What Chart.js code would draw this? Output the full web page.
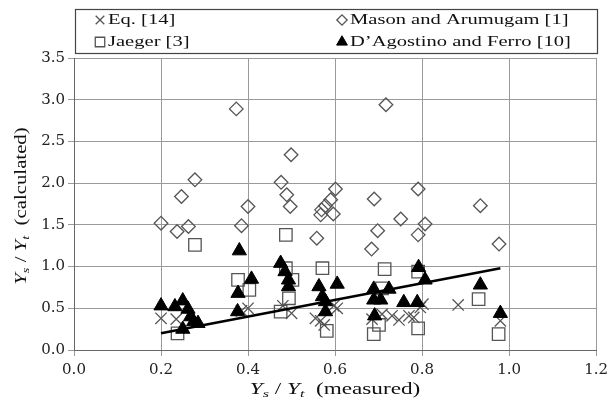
<!DOCTYPE html>
<html>
<head>
<meta charset="utf-8">
<script src="https://cdn.jsdelivr.net/npm/chart.js@4.4.0/dist/chart.umd.min.js"></script>
<style>
  html, body { margin: 0; padding: 0; background: #fff; }
  #wrap { position: relative; width: 613px; height: 405px; }
</style>
</head>
<body>
<div id="wrap"><canvas id="chart"></canvas></div>
<script>
// axis ticks
const xTicks = [0.0, 0.2, 0.4, 0.6, 0.8, 1.0, 1.2];
const yTicks = [0.0, 0.5, 1.0, 1.5, 2.0, 2.5, 3.0, 3.5];

// Eq. [14]
const eqX = [0.200, 0.235, 0.385, 0.400, 0.480, 0.500, 0.555, 0.567, 0.575, 0.597, 0.605, 0.685, 0.708, 0.731, 0.747, 0.770, 0.781, 0.796, 0.802, 0.883, 0.980];
const eqY = [0.38, 0.37, 0.47, 0.50, 0.53, 0.44, 0.38, 0.35, 0.30, 0.53, 0.50, 0.37, 0.43, 0.41, 0.36, 0.41, 0.39, 0.51, 0.55, 0.54, 0.35];

// Mason and Arumugam [1]
const masonX = [0.200, 0.237, 0.247, 0.263, 0.278, 0.373, 0.385, 0.400, 0.476, 0.489, 0.497, 0.499, 0.558, 0.567, 0.569, 0.578, 0.590, 0.596, 0.601, 0.684, 0.690, 0.698, 0.717, 0.751, 0.791, 0.791, 0.807, 0.934, 0.977];
const masonY = [1.52, 1.42, 1.84, 1.48, 2.04, 2.89, 1.49, 1.72, 2.01, 1.86, 1.72, 2.34, 1.34, 1.62, 1.68, 1.73, 1.80, 1.63, 1.93, 1.21, 1.81, 1.43, 2.94, 1.57, 1.93, 1.38, 1.51, 1.73, 1.27];

// Jaeger [3]
const jaegerX = [0.238, 0.278, 0.377, 0.403, 0.475, 0.487, 0.487, 0.494, 0.502, 0.571, 0.581, 0.689, 0.701, 0.708, 0.714, 0.791, 0.791, 0.930, 0.976];
const jaegerY = [0.20, 1.26, 0.84, 0.72, 0.46, 1.38, 0.98, 0.62, 0.84, 0.98, 0.23, 0.19, 0.30, 0.74, 0.97, 0.94, 0.26, 0.61, 0.19];

// D'Agostino and Ferro [10]
const agX = [0.200, 0.232, 0.250, 0.262, 0.268, 0.275, 0.285, 0.250, 0.376, 0.377, 0.380, 0.408, 0.475, 0.485, 0.493, 0.493, 0.563, 0.571, 0.578, 0.578, 0.605, 0.689, 0.689, 0.691, 0.705, 0.724, 0.758, 0.789, 0.792, 0.807, 0.934, 0.980];
const agY = [0.53, 0.52, 0.59, 0.49, 0.40, 0.34, 0.32, 0.25, 0.46, 0.68, 1.19, 0.85, 1.04, 0.94, 0.84, 0.76, 0.76, 0.64, 0.58, 0.46, 0.79, 0.73, 0.60, 0.41, 0.60, 0.73, 0.57, 0.57, 0.99, 0.84, 0.78, 0.44];

// fitted line
const fitX = [0.20, 0.98];
const fitY = [0.20, 0.98];

const zip = (xs, ys) => xs.map((x, i) => ({ x: x, y: ys[i] }));

const SERIF = '"Liberation Serif", "DejaVu Serif", serif';
const GRAY = '#555';

const seriesStyle = {
    eq: { pointStyle: 'crossRot', radius: 8, borderColor: GRAY, backgroundColor: 'rgba(0,0,0,0)', borderWidth: 1.3 },
    mason: { pointStyle: 'rectRot', radius: 6.8, borderColor: GRAY, backgroundColor: 'rgba(0,0,0,0)', borderWidth: 1.3 },
    jaeger: { pointStyle: 'rect', radius: 8.8, borderColor: GRAY, backgroundColor: 'rgba(0,0,0,0)', borderWidth: 1.3 },
    ag: { pointStyle: 'triangle', radius: 8.2, borderColor: '#000', backgroundColor: '#000', borderWidth: 1 }
};

const scatterSet = (label, data, st, order) => ({
    type: 'scatter',
    label: label,
    data: data,
    pointStyle: st.pointStyle,
    pointRadius: st.radius,
    pointBorderColor: st.borderColor,
    pointBackgroundColor: st.backgroundColor,
    pointBorderWidth: st.borderWidth,
    order: order
});

// draws text pieces (with sub-scripts) stretched sideways
const drawPieces = (ctx, pieces, cx, cy, sx) => {
    let total = 0;
    pieces.forEach(p => { ctx.font = p.font; total += ctx.measureText(p.t).width; });
    ctx.save();
    ctx.translate(cx - total * sx / 2, cy);
    ctx.scale(sx, 1);
    let pos = 0;
    ctx.textBaseline = 'middle';
    ctx.textAlign = 'left';
    pieces.forEach(p => {
        ctx.font = p.font;
        ctx.fillText(p.t, pos, p.dy || 0);
        pos += ctx.measureText(p.t).width;
    });
    ctx.restore();
};

const ratioTitle = (rest) => {
    const it = 'italic 16px ' + SERIF, sub = 'italic 11px ' + SERIF, up = '16px ' + SERIF;
    return [
        { t: 'Y', font: it }, { t: 's', font: sub, dy: 4 },
        { t: ' / ', font: up },
        { t: 'Y', font: it }, { t: 't', font: sub, dy: 4 },
        { t: '  ' + rest, font: up }
    ];
};

const decorPlugin = {
    id: 'decor',
    afterDraw(chart) {
        const ctx = chart.ctx;
        const area = chart.chartArea;
        ctx.save();
        ctx.fillStyle = '#111';

        // axis titles
        drawPieces(ctx, ratioTitle('(measured)'), (area.left + area.right) / 2, 390, 1.45);
        ctx.save();
        ctx.translate(22, (area.top + area.bottom) / 2 + 2);
        ctx.rotate(-Math.PI / 2);
        drawPieces(ctx, ratioTitle('(calculated)'), 0, 0, 1.3);
        ctx.restore();

        // legend box
        ctx.strokeStyle = '#444';
        ctx.lineWidth = 1.2;
        ctx.strokeRect(75.5, 9.5, 522, 44);

        const items = [
            { key: 'eq', text: 'Eq. [14]', x: 100, y: 20 },
            { key: 'jaeger', text: 'Jaeger [3]', x: 100, y: 42 },
            { key: 'mason', text: 'Mason and Arumugam [1]', x: 342, y: 20 },
            { key: 'ag', text: 'D\u2019Agostino and Ferro [10]', x: 342, y: 42 }
        ];
        items.forEach(it => {
            const st = seriesStyle[it.key];
            ctx.save();
            ctx.strokeStyle = st.borderColor;
            ctx.fillStyle = st.backgroundColor;
            ctx.lineWidth = st.borderWidth;
            Chart.helpers.drawPoint(ctx, { pointStyle: st.pointStyle, radius: st.radius * 0.76, rotation: 0, borderWidth: st.borderWidth }, it.x, it.y);
            ctx.restore();
            ctx.save();
            ctx.fillStyle = '#111';
            ctx.font = '15px ' + SERIF;
            ctx.textBaseline = 'middle';
            ctx.translate(it.x + 8, it.y);
            ctx.scale(1.37, 1);
            ctx.fillText(it.text, 0, 0);
            ctx.restore();
        });
        ctx.restore();
    }
};

const tickFont = { family: '"DejaVu Serif", serif', size: 15 };

new Chart(document.getElementById('chart'), {
    data: {
        datasets: [
            scatterSet('Eq. [14]', zip(eqX, eqY), seriesStyle.eq, 5),
            scatterSet('Mason and Arumugam [1]', zip(masonX, masonY), seriesStyle.mason, 4),
            scatterSet('Jaeger [3]', zip(jaegerX, jaegerY), seriesStyle.jaeger, 3),
            {
                type: 'line',
                label: 'fit',
                data: zip(fitX, fitY),
                borderColor: '#000',
                borderWidth: 2.6,
                pointRadius: 0,
                order: 2
            },
            scatterSet('D\u2019Agostino and Ferro [10]', zip(agX, agY), seriesStyle.ag, 1)
        ]
    },
    options: {
        responsive: true,
        maintainAspectRatio: false,
        animation: false,
        devicePixelRatio: 1,
        layout: { padding: { top: 58, right: 15, left: 0, bottom: 0 } },
        plugins: {
            legend: { display: false },
            tooltip: { enabled: false }
        },
        scales: {
            x: {
                type: 'linear',
                min: 0,
                max: 1.2,
                afterBuildTicks: (s) => { s.ticks = xTicks.map(v => ({ value: v })); },
                afterFit: (s) => { s.height = 55; },
                ticks: {
                    color: '#222',
                    font: tickFont,
                    padding: 5,
                    callback: (v) => Number(v).toFixed(1)
                },
                grid: { color: '#9a9a9a', lineWidth: 1, tickLength: 6 },
                border: { color: '#666', width: 1 }
            },
            y: {
                type: 'linear',
                min: 0,
                max: 3.5,
                afterBuildTicks: (s) => { s.ticks = yTicks.map(v => ({ value: v })); },
                afterFit: (s) => { s.width = 74; },
                ticks: {
                    color: '#222',
                    font: tickFont,
                    padding: 3,
                    callback: (v) => Number(v).toFixed(1)
                },
                grid: { color: '#9a9a9a', lineWidth: 1, tickLength: 6 },
                border: { color: '#666', width: 1 }
            }
        }
    },
    plugins: [decorPlugin]
});
</script>
</body>
</html>
